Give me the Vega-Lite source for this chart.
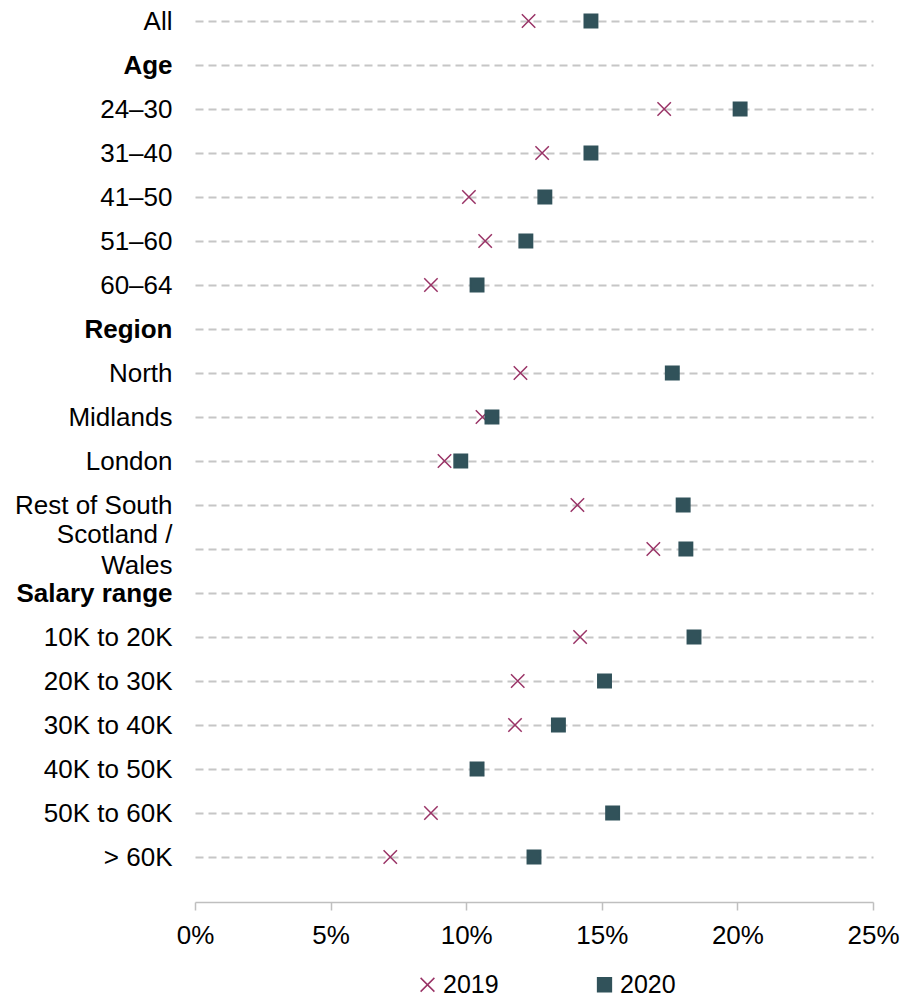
{
  "$schema": "https://vega.github.io/schema/vega-lite/v6.json",
  "autosize": {"type": "none"},
  "padding": {"left": 195, "top": 0, "right": 29, "bottom": 97},
  "width": 678,
  "height": 902,
  "config": {
    "view": {"stroke": null},
    "font": "Liberation Sans"
  },
  "data": {
    "values": [
      {"group": "All", "year": "2019", "value": 0.123},
      {"group": "24–30", "year": "2019", "value": 0.173},
      {"group": "31–40", "year": "2019", "value": 0.128},
      {"group": "41–50", "year": "2019", "value": 0.101},
      {"group": "51–60", "year": "2019", "value": 0.107},
      {"group": "60–64", "year": "2019", "value": 0.087},
      {"group": "North", "year": "2019", "value": 0.120},
      {"group": "Midlands", "year": "2019", "value": 0.106},
      {"group": "London", "year": "2019", "value": 0.092},
      {"group": "Rest of South", "year": "2019", "value": 0.141},
      {"group": "Scotland / Wales", "year": "2019", "value": 0.169},
      {"group": "10K to 20K", "year": "2019", "value": 0.142},
      {"group": "20K to 30K", "year": "2019", "value": 0.119},
      {"group": "30K to 40K", "year": "2019", "value": 0.118},
      {"group": "40K to 50K", "year": "2019", "value": 0.104},
      {"group": "50K to 60K", "year": "2019", "value": 0.087},
      {"group": "> 60K", "year": "2019", "value": 0.072},
      {"group": "All", "year": "2020", "value": 0.146},
      {"group": "24–30", "year": "2020", "value": 0.201},
      {"group": "31–40", "year": "2020", "value": 0.146},
      {"group": "41–50", "year": "2020", "value": 0.129},
      {"group": "51–60", "year": "2020", "value": 0.122},
      {"group": "60–64", "year": "2020", "value": 0.104},
      {"group": "North", "year": "2020", "value": 0.176},
      {"group": "Midlands", "year": "2020", "value": 0.1095},
      {"group": "London", "year": "2020", "value": 0.098},
      {"group": "Rest of South", "year": "2020", "value": 0.180},
      {"group": "Scotland / Wales", "year": "2020", "value": 0.181},
      {"group": "10K to 20K", "year": "2020", "value": 0.184},
      {"group": "20K to 30K", "year": "2020", "value": 0.151},
      {"group": "30K to 40K", "year": "2020", "value": 0.134},
      {"group": "40K to 50K", "year": "2020", "value": 0.104},
      {"group": "50K to 60K", "year": "2020", "value": 0.154},
      {"group": "> 60K", "year": "2020", "value": 0.125}
    ]
  },
  "mark": {"type": "point", "strokeWidth": 1.5, "size": 180, "opacity": 1},
  "encoding": {
    "y": {
      "field": "group",
      "type": "nominal",
      "scale": {
        "type": "point",
        "padding": 0,
        "domain": ["All", "Age", "24–30", "31–40", "41–50", "51–60", "60–64", "Region", "North", "Midlands", "London", "Rest of South", "Scotland / Wales", "Salary range", "10K to 20K", "20K to 30K", "30K to 40K", "40K to 50K", "50K to 60K", "> 60K"],
        "range": [21, 857]
      },
      "axis": {
        "title": null,
        "domain": false,
        "ticks": false,
        "grid": true,
        "gridColor": "#c6c6c6",
        "gridWidth": 2,
        "gridDash": [8, 5],
        "labelFontSize": 26,
        "labelColor": "#000000",
        "labelPadding": 23,
        "labelLineHeight": 31,
        "labelLimit": 300,
        "labelOffset": {"condition": {"test": "datum.value == 'Scotland / Wales'", "value": -15}, "value": 0},
        "labelFontWeight": {"condition": {"test": "indexof(['Age','Region','Salary range'], datum.value) >= 0", "value": "bold"}, "value": "normal"},
        "labelExpr": "datum.value == 'Scotland / Wales' ? ['Scotland /', 'Wales'] : datum.value"
      }
    },
    "x": {
      "field": "value",
      "type": "quantitative",
      "scale": {"domain": [0, 0.25], "nice": false, "zero": true},
      "axis": {
        "title": null,
        "format": ".0%",
        "values": [0, 0.05, 0.1, 0.15, 0.2, 0.25],
        "grid": false,
        "domainColor": "#bfbfbf",
        "domainWidth": 1.5,
        "tickColor": "#bfbfbf",
        "tickWidth": 1.5,
        "tickSize": 8,
        "labelPadding": 12,
        "labelFontSize": 26,
        "labelColor": "#000000",
        "labelFlush": false
      }
    },
    "shape": {
      "field": "year",
      "type": "nominal",
      "scale": {"domain": ["2019", "2020"], "range": ["M-1,-1L1,1M-1,1L1,-1", "square"]},
      "legend": {
        "title": null,
        "orient": "none",
        "legendX": 220,
        "legendY": 972,
        "direction": "horizontal",
        "labelFontSize": 25,
        "labelColor": "#000000",
        "symbolSize": 190,
        "symbolStrokeWidth": 1.5,
        "labelOffset": 3,
        "columnPadding": 93
      }
    },
    "stroke": {
      "field": "year",
      "type": "nominal",
      "scale": {"domain": ["2019", "2020"], "range": ["#993366", "#31525a"]}
    },
    "fill": {
      "field": "year",
      "type": "nominal",
      "scale": {"domain": ["2019", "2020"], "range": ["transparent", "#31525a"]}
    }
  }
}
